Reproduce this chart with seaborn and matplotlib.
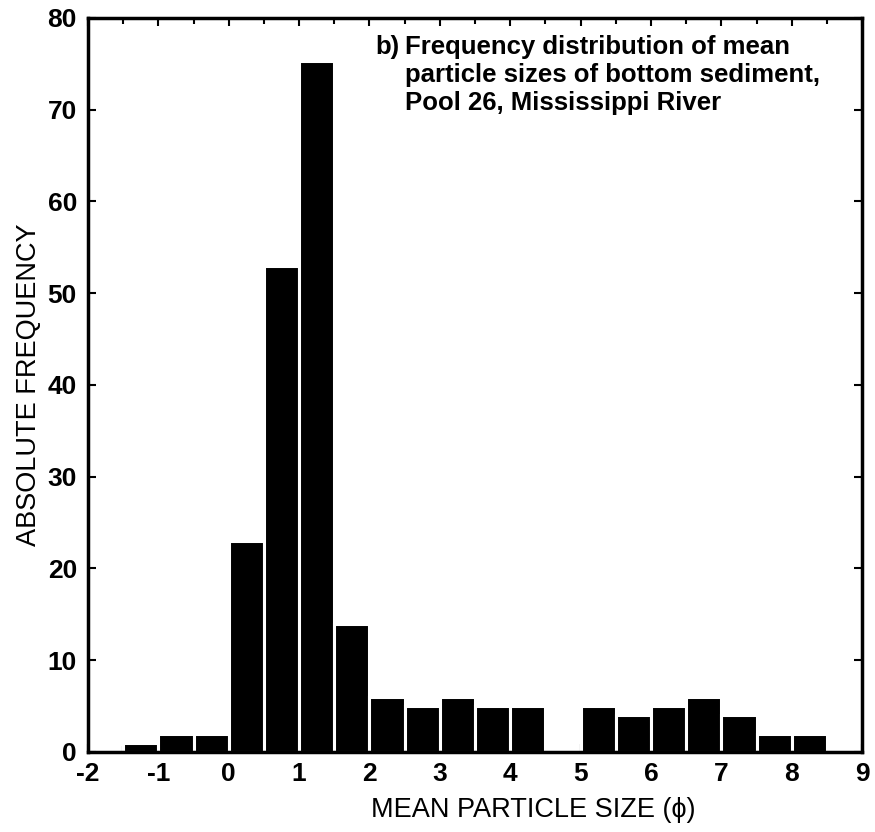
import matplotlib
matplotlib.use("Agg")
import matplotlib.pyplot as plt
import seaborn as sns
import numpy as np
from matplotlib.ticker import MultipleLocator

sns.set_style("ticks")
plt.rcParams['font.family'] = ['Liberation Sans', 'DejaVu Sans']
plt.rcParams.update({"text.color": "black", "axes.labelcolor": "black",
                     "xtick.color": "black", "ytick.color": "black",
                     "axes.edgecolor": "black"})

bin_edges = [-2, -1.5, -1, -0.5, 0, 0.5, 1, 1.5, 2, 2.5, 3, 3.5, 4, 4.5, 5,
             5.5, 6, 6.5, 7, 7.5, 8, 8.5, 9]
bin_centers = [-1.75, -1.25, -0.75, -0.25, 0.25, 0.75, 1.25, 1.75, 2.25, 2.75,
               3.25, 3.75, 4.25, 4.75, 5.25, 5.75, 6.25, 6.75, 7.25, 7.75,
               8.25, 8.75]
counts = [0, 1, 2, 2, 23, 53, 75.3, 14, 6, 5, 6, 5, 5, 0, 5, 4, 5, 6, 4, 2, 2, 0]
x_ticks = [-2, -1, 0, 1, 2, 3, 4, 5, 6, 7, 8, 9]
x_ticklabels = ["-2", "-1", "0", "1", "2", "3", "4", "5", "6", "7", "8", "9"]
y_ticks = [0, 10, 20, 30, 40, 50, 60, 70, 80]

fig = plt.figure(figsize=(8.75, 8.32), dpi=100)
ax = fig.add_axes([0.1006, 0.0962, 0.8846, 0.8822])

sns.histplot(x=bin_centers, weights=counts, bins=bin_edges, color="black",
             edgecolor="white", linewidth=2.2, alpha=1, ax=ax)

ax.set_xlim(-2, 9)
ax.set_ylim(0, 80)
ax.set_xticks(x_ticks)
ax.set_xticklabels(x_ticklabels)
ax.set_yticks(y_ticks)
ax.xaxis.set_minor_locator(MultipleLocator(0.5))
ax.tick_params(axis="both", which="both", direction="in", top=True, right=True,
               width=1.5, labelsize=19)
ax.tick_params(which="major", length=6)
ax.tick_params(which="minor", length=4)
ax.tick_params(axis="x", pad=7)
ax.tick_params(axis="y", pad=8)
for lbl in ax.get_xticklabels() + ax.get_yticklabels():
    lbl.set_fontweight("bold")
for s in ax.spines.values():
    s.set_linewidth(2.5)
    s.set_visible(True)

ax.set_xlabel("MEAN PARTICLE SIZE (\u03d5)", fontsize=19.5, fontweight="medium")
ax.xaxis.set_label_coords(0.575, -0.062)
ax.set_ylabel("ABSOLUTE FREQUENCY", fontsize=19.5, labelpad=4)

ax.text(0.371, 0.977, "b)", transform=ax.transAxes, fontsize=18.5,
        fontweight="bold", va="top", ha="left")
ax.text(0.410, 0.977,
        "Frequency distribution of mean\nparticle sizes of bottom sediment,\nPool 26, Mississippi River",
        transform=ax.transAxes, fontsize=18.5, fontweight="bold", va="top",
        ha="left", linespacing=1.22)

fig.savefig("out.png", dpi=100)
